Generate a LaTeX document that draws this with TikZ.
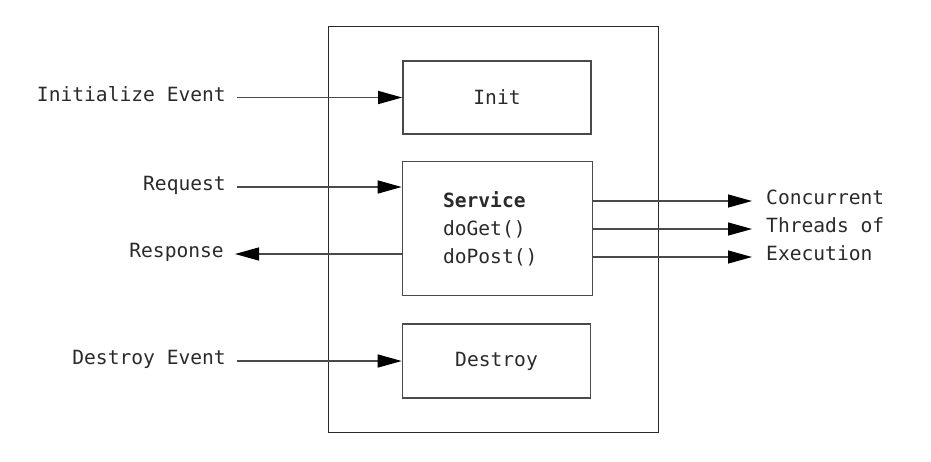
\documentclass[tikz,border=0pt]{standalone}
\usepackage{fontspec}
\newfontfamily\monofnt{DejaVu Sans Mono}
\usetikzlibrary{arrows.meta}
\definecolor{ink}{HTML}{2A2A2A}
\definecolor{boxline}{HTML}{4A4A4A}
\tikzset{
  lbl/.style={font=\monofnt\fontsize{19.6}{28}\selectfont, text=ink, inner sep=0pt, text height=0.73em, text depth=0pt},
  stagebox/.style={draw=boxline, line width=1.6pt, inner sep=0pt, font=\monofnt\fontsize{19.6}{28}\selectfont, text=ink},
  outerbox/.style={draw=ink, line width=1.3pt, inner sep=0pt},
  conn/.style={draw=boxline, line width=1.3pt, -{Triangle[length=24pt,width=13pt,color=black]}},
}
\begin{document}
\begin{tikzpicture}[x=1pt,y=-1pt]
\useasboundingbox (0,0) rectangle (931,461);
% container
\node[outerbox, minimum width=330pt, minimum height=406pt] (outer) at (493.5,229.5) {};
% stages
\node[stagebox, minimum width=188pt, minimum height=73pt] (init) at (497,97.5) {Init};
\node[stagebox, minimum width=190pt, minimum height=134pt, text width=109pt, align=left] (svc) at (497.5,228.5) {\textbf{Service}\\doGet()\\doPost()};
\node[stagebox, minimum width=188pt, minimum height=74pt] (destroy) at (496.5,361) {Destroy};
% left labels
\node[lbl, anchor=east] (ie) at (226,97.5) {Initialize Event};
\node[lbl, anchor=east] (req) at (226,187) {Request};
\node[lbl, anchor=east] (resp) at (224,254) {Response};
\node[lbl, anchor=east] (de) at (226,361) {Destroy Event};
% right labels
\node[lbl, anchor=west] (c1) at (766,201) {Concurrent};
\node[lbl, anchor=west] (c2) at (766,229) {Threads of};
\node[lbl, anchor=west] (c3) at (766,257) {Execution};
% connectors
\draw[conn, shorten <=11pt] (ie.east) -- (init.west);
\draw[conn, shorten <=11pt] (req.east) -- (req.east -| svc.west);
\draw[conn, shorten >=11pt] (resp.east -| svc.west) -- (resp.east);
\draw[conn, shorten <=11pt] (de.east) -- (destroy.west);
\draw[conn, shorten >=14pt] (c1.west -| svc.east) -- (c1.west);
\draw[conn, shorten >=14pt] (c2.west -| svc.east) -- (c2.west);
\draw[conn, shorten >=14pt] (c3.west -| svc.east) -- (c3.west);
\end{tikzpicture}
\end{document}
